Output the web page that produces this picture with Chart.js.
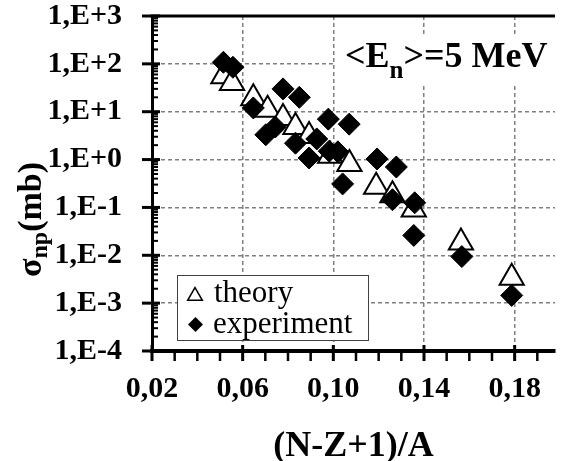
<!DOCTYPE html>
<html>
<head>
<meta charset="utf-8">
<script src="https://cdn.jsdelivr.net/npm/chart.js@4.4.1/dist/chart.umd.min.js"></script>
<style>
  body { margin: 0; background: #fff; }
</style>
</head>
<body>
<canvas id="myChart" width="571" height="461"></canvas>
<script>
// values
const seriesNames = ['theory', 'experiment'];
const theoryX = [0.0515, 0.0553, 0.0647, 0.0710, 0.0778, 0.0833, 0.0893, 0.0986, 0.1071, 0.1189, 0.1261, 0.1355, 0.1563, 0.1787];
const theoryY = [55, 40, 19, 11, 7.4, 4.8, 3.1, 1.2, 0.81, 0.27, 0.18, 0.09, 0.0184, 0.0034];
const experimentX = [0.0515, 0.0557, 0.0647, 0.0702, 0.0744, 0.0778, 0.0850, 0.0833, 0.0893, 0.0927, 0.0978, 0.1070, 0.0982, 0.1020, 0.1041, 0.1193, 0.1278, 0.1261, 0.1359, 0.1355, 0.1567, 0.1787];
const experimentY = [108, 85, 12, 3.3, 4.8, 30, 20, 2.2, 1.08, 2.7, 7.0, 5.5, 1.5, 1.45, 0.31, 1.03, 0.70, 0.145, 0.125, 0.026, 0.0094, 0.00145];
const xTicks = [0.02, 0.06, 0.10, 0.14, 0.18];
const yTicks = [1e-4, 1e-3, 1e-2, 1e-1, 1e0, 1e1, 1e2, 1e3];

const serif = "'Liberation Serif', 'Times New Roman', serif";

function toPoints(xs, ys) {
	return xs.map((v, i) => ({x: v, y: ys[i]}));
}

// axis ticks, frame, legend box, annotation and y title
const extras = {
	id: 'extras',
	afterDraw(chart) {
		const {ctx, chartArea} = chart;
		const x = chart.scales.x;
		const y = chart.scales.y;
		ctx.save();

		// top frame line
		ctx.strokeStyle = '#000';
		ctx.lineWidth = 3;
		ctx.beginPath();
		ctx.moveTo(chartArea.left - 1.5, chartArea.top);
		ctx.lineTo(chartArea.right, chartArea.top);
		ctx.stroke();

		// y ticks: majors across the axis, minors inside
		for (let e = -4; e <= 3; e++) {
			const py = y.getPixelForValue(Math.pow(10, e));
			ctx.lineWidth = 3;
			ctx.beginPath();
			ctx.moveTo(chartArea.left - 10, py);
			ctx.lineTo(chartArea.left + 8, py);
			ctx.stroke();
			if (e == 3) continue;
			ctx.lineWidth = 2;
			for (let m = 2; m <= 9; m++) {
				const my = y.getPixelForValue(m * Math.pow(10, e));
				ctx.beginPath();
				ctx.moveTo(chartArea.left, my);
				ctx.lineTo(chartArea.left + 6, my);
				ctx.stroke();
			}
		}

		// x ticks: majors every 0.04, minors every 0.01
		for (let k = 2; k <= 19; k++) {
			const px = x.getPixelForValue(k / 100);
			const major = (k - 2) % 4 == 0;
			ctx.lineWidth = major ? 3 : 2.5;
			ctx.beginPath();
			ctx.moveTo(px, major ? chartArea.bottom - 6 : chartArea.bottom);
			ctx.lineTo(px, chartArea.bottom + 10);
			ctx.stroke();
		}

		// annotation with white box behind it
		ctx.fillStyle = '#fff';
		ctx.fillRect(335, 36, 225, 50);
		ctx.fillStyle = '#000';
		ctx.textBaseline = 'alphabetic';
		ctx.textAlign = 'left';
		let tx = 345;
		ctx.font = 'bold 36px ' + serif;
		ctx.fillText('<E', tx, 67);
		tx += ctx.measureText('<E').width;
		ctx.font = 'bold 25px ' + serif;
		ctx.fillText('n', tx, 78);
		tx += ctx.measureText('n').width;
		ctx.font = 'bold 36px ' + serif;
		ctx.fillText('>=5 MeV', tx, 67);

		// legend
		ctx.fillStyle = '#fff';
		ctx.fillRect(177, 275, 191, 65);
		ctx.strokeStyle = '#404040';
		ctx.lineWidth = 1;
		ctx.strokeRect(177.5, 275.5, 191, 65);

		const sets = chart.data.datasets;
		// triangle
		ctx.strokeStyle = '#000';
		ctx.lineWidth = 1.5;
		ctx.fillStyle = '#fff';
		let cx = 195, cy = 296, r = 8.5;
		ctx.beginPath();
		ctx.moveTo(cx, cy - r);
		ctx.lineTo(cx + r * 0.866, cy + r / 2);
		ctx.lineTo(cx - r * 0.866, cy + r / 2);
		ctx.closePath();
		ctx.fill();
		ctx.stroke();
		// diamond
		ctx.fillStyle = '#000';
		cx = 195.5; cy = 324.5; r = 7.5;
		ctx.beginPath();
		ctx.moveTo(cx - r, cy);
		ctx.lineTo(cx, cy - r);
		ctx.lineTo(cx + r, cy);
		ctx.lineTo(cx, cy + r);
		ctx.closePath();
		ctx.fill();

		ctx.font = '31px ' + serif;
		ctx.fillText(sets[0].label, 214, 302);
		ctx.fillText(sets[1].label, 213, 333);

		// y title: sigma_np(mb)
		ctx.translate(41, 277);
		ctx.rotate(-Math.PI / 2);
		ctx.font = 'bold 34px ' + serif;
		ctx.fillText('σ', 0, 0);
		let w = ctx.measureText('σ').width;
		ctx.font = 'bold 24px ' + serif;
		ctx.fillText('np', w, 6);
		w += ctx.measureText('np').width;
		ctx.font = 'bold 34px ' + serif;
		ctx.fillText('(mb)', w, 0);

		ctx.restore();
	}
};

const myChart = document.getElementById('myChart');

let scatterChart = new Chart(myChart, {
	type: 'scatter',
	data: {
		datasets: [{
			label: seriesNames[0],
			data: toPoints(theoryX, theoryY),
			pointStyle: 'triangle',
			pointRadius: 14,
			backgroundColor: '#fff',
			borderColor: '#000',
			borderWidth: 2,
			order: 1
		}, {
			label: seriesNames[1],
			data: toPoints(experimentX, experimentY),
			pointStyle: 'rectRot',
			pointRadius: 11,
			backgroundColor: '#000',
			borderColor: '#000',
			borderWidth: 1,
			order: 0
		}]
	},
	options: {
		responsive: false,
		animation: false,
		layout: {
			padding: {top: 14.5, right: 0, bottom: 0, left: 0}
		},
		plugins: {
			legend: {display: false},
			tooltip: {enabled: false}
		},
		scales: {
			x: {
				type: 'linear',
				min: 0.02,
				max: 0.1978,
				afterBuildTicks: s => { s.ticks = xTicks.map(v => ({value: v})); },
				afterFit: s => {
					s.height = 110;
					s.paddingLeft = 0;
					s.paddingRight = 0;
				},
				ticks: {
					callback: v => v.toFixed(2).replace('.', ','),
					font: {family: serif, size: 30, weight: 'bold'},
					color: '#000',
					padding: 20,
					maxRotation: 0,
					autoSkip: false
				},
				grid: {
					color: c => (c.tick && c.tick.value > 0.021) ? '#808080' : 'rgba(0,0,0,0)',
					lineWidth: 1.5,
					drawTicks: false
				},
				border: {display: true, color: '#000', width: 4, dash: [4, 3]},
				title: {
					display: true,
					text: '(N-Z+1)/A',
					color: '#000',
					font: {family: serif, size: 36, weight: 'bold', lineHeight: 0.8},
					padding: 0
				}
			},
			y: {
				type: 'logarithmic',
				min: 1e-4,
				max: 1e3,
				afterBuildTicks: s => { s.ticks = yTicks.map(v => ({value: v})); },
				afterFit: s => {
					s.width = 152;
					s.paddingTop = 0;
					s.paddingBottom = 0;
				},
				ticks: {
					callback: v => {
						const e = Math.round(Math.log10(v));
						return '1,E' + (e < 0 ? '-' : '+') + Math.abs(e);
					},
					font: {family: serif, size: 30, weight: 'bold'},
					color: '#000',
					padding: 30,
					autoSkip: false
				},
				grid: {
					color: c => (c.tick && c.tick.value > 1.5e-4 && c.tick.value < 5e2) ? '#808080' : 'rgba(0,0,0,0)',
					lineWidth: 1.5,
					drawTicks: false
				},
				border: {display: true, color: '#000', width: 3, dash: [4, 3]}
			}
		}
	},
	plugins: [extras]
});
</script>
</body>
</html>
